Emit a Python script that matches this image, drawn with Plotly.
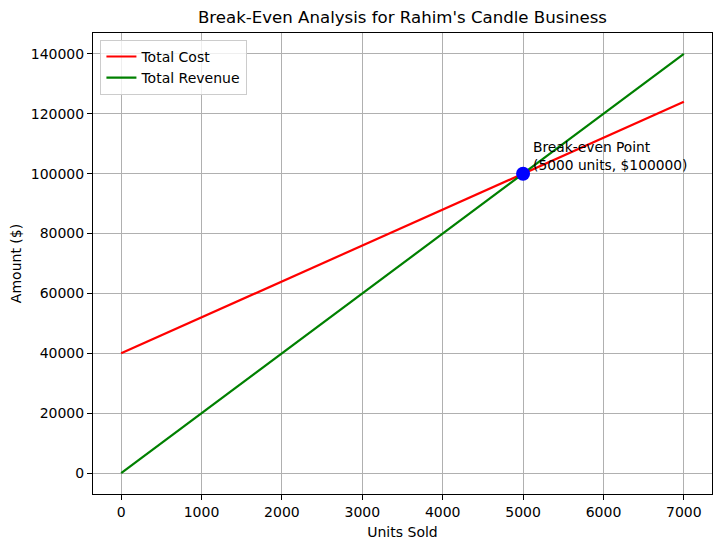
import plotly.graph_objects as go

units = [0, 1000, 2000, 3000, 4000, 5000, 6000, 7000]
total_cost = [40000, 52000, 64000, 76000, 88000, 100000, 112000, 124000]
total_revenue = [0, 20000, 40000, 60000, 80000, 100000, 120000, 140000]
be_units = [5000]
be_amount = [100000]
x_ticks = [0, 1000, 2000, 3000, 4000, 5000, 6000, 7000]
y_ticks = [0, 20000, 40000, 60000, 80000, 100000, 120000, 140000]

fig = go.Figure()
fig.add_trace(go.Scatter(x=units, y=total_cost, mode="lines", name="Total Cost",
                         line=dict(color="red", width=2.2)))
fig.add_trace(go.Scatter(x=units, y=total_revenue, mode="lines", name="Total Revenue",
                         line=dict(color="green", width=2.2)))
fig.add_trace(go.Scatter(x=be_units, y=be_amount, mode="markers", showlegend=False,
                         marker=dict(color="blue", size=14, line=dict(width=0))))

fig.add_annotation(x=5100, y=99500, xanchor="left", yanchor="bottom",
                   text="Break-even Point<br>(5000 units, $100000)", showarrow=False,
                   align="left", font=dict(size=13.8, color="black"))

axis_common = dict(showline=True, mirror=True, linecolor="black", linewidth=1,
                   showgrid=True, gridcolor="#b0b0b0", gridwidth=1, zeroline=False,
                   ticks="outside", ticklen=5, tickcolor="black", automargin=False,
                   tickfont=dict(size=14, color="black"))

fig.update_xaxes(range=[-350, 7350], tickvals=x_ticks, ticktext=[str(v) for v in x_ticks],
                 title=dict(text="Units Sold", font=dict(size=14, color="black"), standoff=8),
                 **axis_common)
fig.update_yaxes(range=[-7000, 147000], tickvals=y_ticks, ticktext=[str(v) for v in y_ticks],
                 title=dict(text="Amount ($)", font=dict(size=14, color="black"), standoff=10),
                 **axis_common)

fig.update_layout(
    width=713, height=539,
    margin=dict(l=85, r=9, t=25, b=53),
    paper_bgcolor="white", plot_bgcolor="white",
    font=dict(family="DejaVu Sans", color="black"),
    title=dict(text="Break-Even Analysis for Rahim's Candle Business", x=0.5, xanchor="center",
               xref="paper", y=1, yref="container", yanchor="top", pad=dict(t=3),
               automargin=False, font=dict(size=16.6, color="black")),
    legend=dict(x=0.012, y=0.985, xanchor="left", yanchor="top",
                bgcolor="rgba(255,255,255,0.8)", bordercolor="#cccccc", borderwidth=1,
                font=dict(size=14, color="black"), tracegroupgap=0),
)

fig.write_html("out.html")
